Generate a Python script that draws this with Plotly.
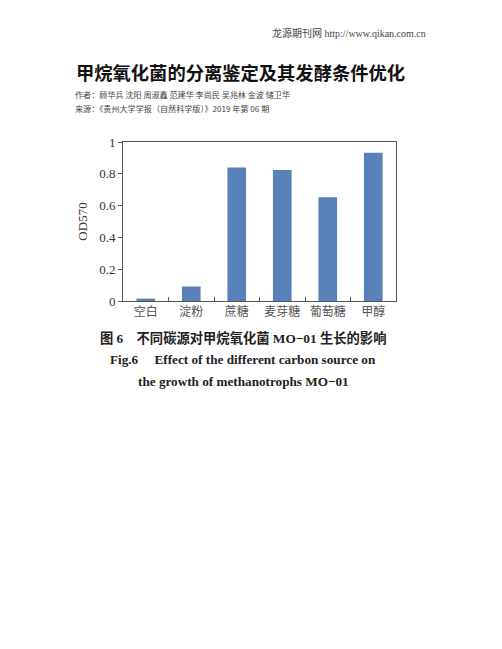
import plotly.graph_objects as go

categories = ["空白", "淀粉", "蔗糖", "麦芽糖", "葡萄糖", "甲醇"]
od570 = [0.015, 0.091, 0.840, 0.824, 0.652, 0.933]
y_ticks = [0, 0.2, 0.4, 0.6, 0.8, 1]
y_tick_labels = ["0", "0.2", "0.4", "0.6", "0.8", "1"]

W, H = 502, 649
L, R, T, B = 123, 396, 142, 301  # plot area in pixels

def px(xp):
    return (xp - L) / (R - L)

def py(yp):
    return (B - yp) / (B - T)

SERIF = "Liberation Serif, Noto Sans CJK SC, serif"
CJK = "Noto Sans CJK SC, sans-serif"

fig = go.Figure(go.Bar(
    x=categories, y=od570,
    marker=dict(color="#5781B8", line=dict(width=0)),
    hoverinfo="skip",
))

fig.update_layout(
    width=W, height=H, autosize=False,
    margin=dict(l=L, r=W - R, t=T, b=H - B, pad=0),
    paper_bgcolor="white", plot_bgcolor="white",
    bargap=0.59, showlegend=False,
    font=dict(family=SERIF, color="#333"),
)
fig.update_yaxes(
    range=[0, 1], tickvals=y_ticks, ticktext=y_tick_labels,
    ticks="outside", ticklen=4, tickcolor="#555", tickwidth=1,
    showline=True, linecolor="#555", linewidth=1, mirror=True,
    showgrid=False, zeroline=False,
    tickfont=dict(family=SERIF, size=13, color="#333"),
    title=dict(text="OD570", font=dict(family=SERIF, size=13, color="#333"), standoff=8),
)
fig.update_xaxes(
    type="category", tickson="boundaries", tickangle=0,
    ticks="inside", ticklen=4, tickcolor="#555", tickwidth=1,
    showline=True, linecolor="#555", linewidth=1, mirror=True,
    showgrid=False,
    tickfont=dict(family=CJK, size=12, color="#555"),
)

anns = [
    dict(text="龙源期刊网 http://www.qikan.com.cn", x=px(428), y=py(33), xanchor="right",
         font=dict(family="Liberation Serif, Noto Sans CJK SC", size=10, color="#444")),
    dict(text="<b>甲烷氧化菌的分离鉴定及其发酵条件优化</b>", x=px(74), y=py(72), xanchor="left",
         font=dict(family=CJK, size=18.3, color="#111")),
    dict(text="作者：顾华兵 沈阳 周淑鑫 范建华 李尚民 吴兆林 金波 储卫华", x=px(73), y=py(94), xanchor="left",
         font=dict(family=CJK, size=8.1, color="#444")),
    dict(text="来源：《贵州大学学报（自然科学版）》2019 年第 06 期", x=px(73), y=py(108), xanchor="left",
         font=dict(family=CJK, size=8.1, color="#444")),
    dict(text="<b>图 6　不同碳源对甲烷氧化菌 MO−01 生长的影响</b>", x=px(243), y=py(338), xanchor="center",
         font=dict(family="Liberation Serif, Noto Sans CJK SC", size=13.3, color="#222")),
    dict(text="<b>Fig.6　 Effect of the different carbon source on</b>", x=px(243), y=py(359), xanchor="center",
         font=dict(family="Liberation Serif", size=13.2, color="#222")),
    dict(text="<b>the growth of methanotrophs MO−01</b>", x=px(243), y=py(381), xanchor="center",
         font=dict(family="Liberation Serif", size=13.2, color="#222")),
]
for a in anns:
    a.update(xref="paper", yref="paper", yanchor="middle", showarrow=False)
fig.update_layout(annotations=anns)

fig.write_html("out.html", config={"displayModeBar": False},
               post_script="document.body.style.margin='0';")
